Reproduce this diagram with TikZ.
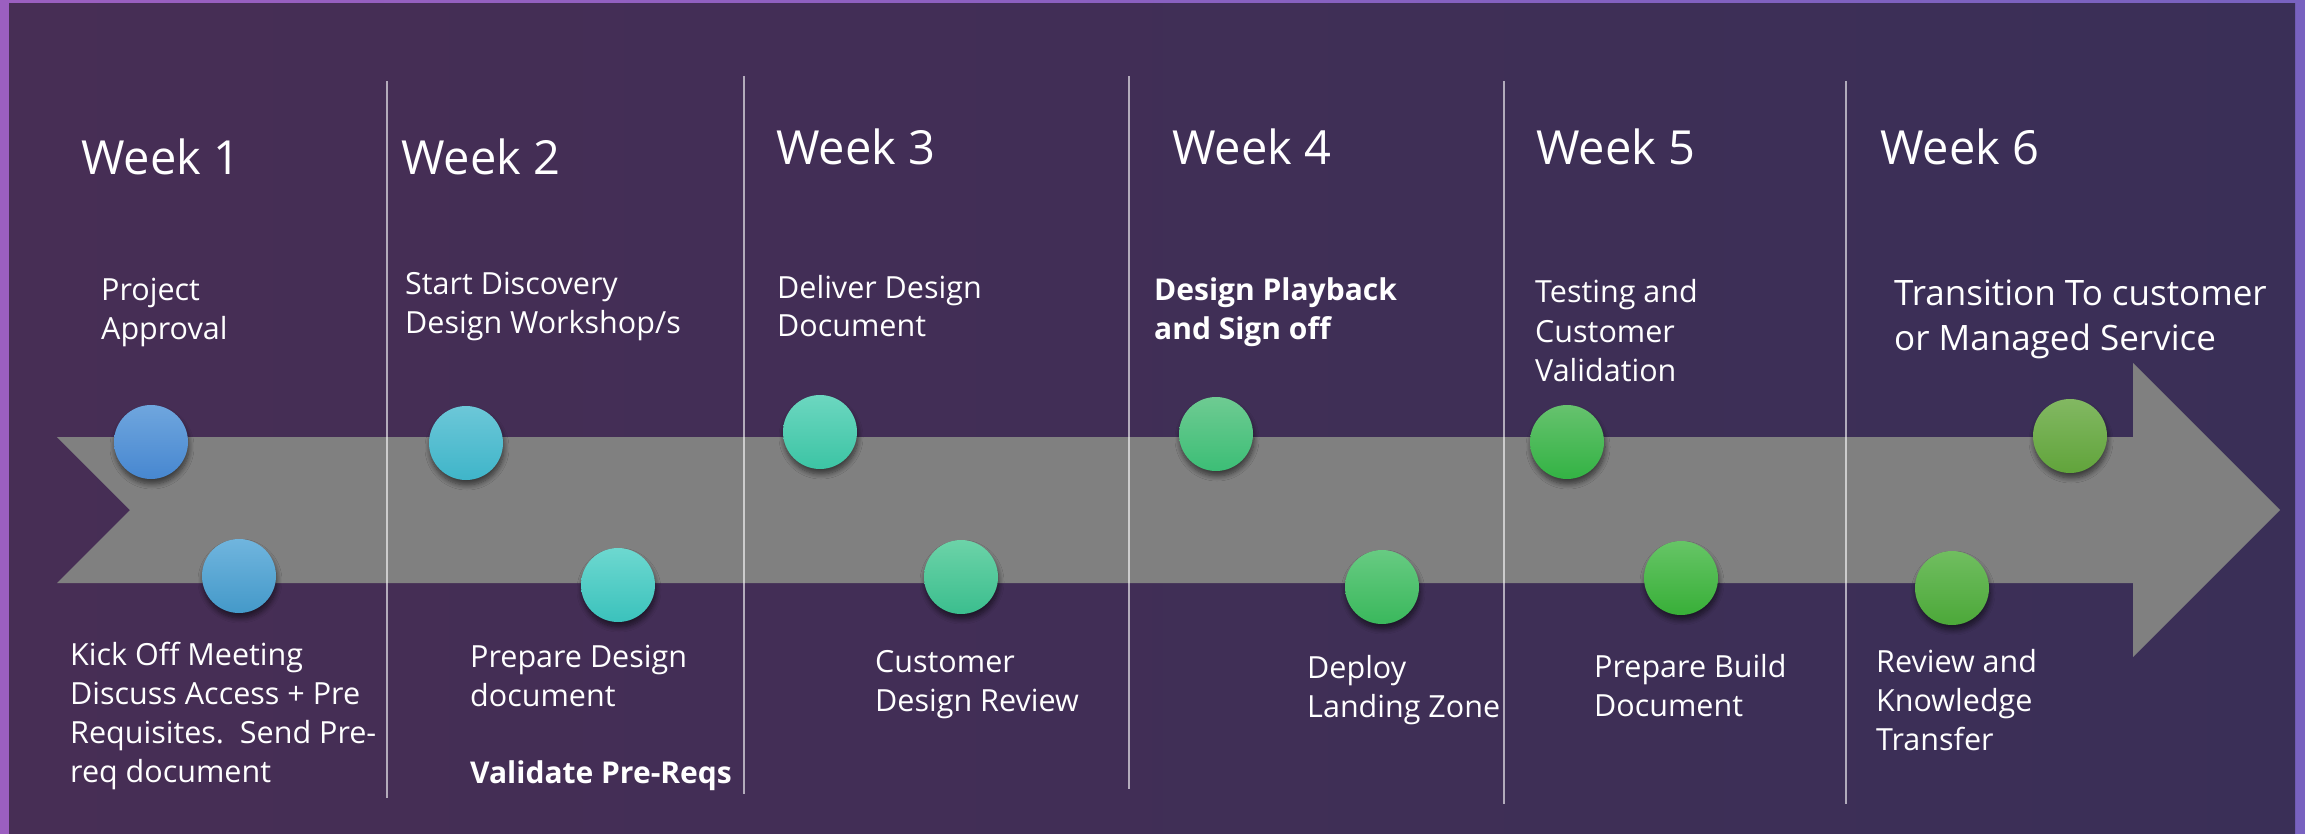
\documentclass[tikz,border=0pt]{standalone}
\usepackage{fontspec}
\setmainfont{Open Sans}
\usetikzlibrary{shadows.blur}

% frame and background
\definecolor{framel}{HTML}{9B5FC0}
\definecolor{framer}{HTML}{7862C0}
\definecolor{bgl}{HTML}{472E55}
\definecolor{bgr}{HTML}{3A2F57}
\definecolor{band}{HTML}{808080}

% milestone dots, blue to green
\definecolor{c1top}{HTML}{6FA6DE}\definecolor{c1bot}{HTML}{4787D0}
\definecolor{c2top}{HTML}{70B5DE}\definecolor{c2bot}{HTML}{4499C9}
\definecolor{c3top}{HTML}{6CC7D8}\definecolor{c3bot}{HTML}{3FB5C9}
\definecolor{c4top}{HTML}{6DD8D0}\definecolor{c4bot}{HTML}{3BC2BC}
\definecolor{c5top}{HTML}{6CD7C0}\definecolor{c5bot}{HTML}{3CC4A4}
\definecolor{c6top}{HTML}{6CD3A8}\definecolor{c6bot}{HTML}{3BBE8E}
\definecolor{c7top}{HTML}{6ECB92}\definecolor{c7bot}{HTML}{3CBE76}
\definecolor{c8top}{HTML}{67CB82}\definecolor{c8bot}{HTML}{3AB85C}
\definecolor{c9top}{HTML}{66C26E}\definecolor{c9bot}{HTML}{33B344}
\definecolor{c10top}{HTML}{66C566}\definecolor{c10bot}{HTML}{38AF38}
\definecolor{c11top}{HTML}{70BE60}\definecolor{c11bot}{HTML}{4CA839}
\definecolor{c12top}{HTML}{82B862}\definecolor{c12bot}{HTML}{61A43B}

\tikzset{
  milestone/.style={circle, minimum size=74pt, inner sep=0pt, draw=none,
    top color=#1top, bottom color=#1bot,
    blur shadow={shadow xshift=1pt, shadow yshift=-5pt,
      shadow blur radius=5pt, shadow blur steps=8, shadow opacity=55}},
  week/.style={anchor=base west, inner sep=0pt, text=white,
    font=\fontsize{47}{56}\selectfont},
  % multi-line text sits on the baseline of its last line
  task/.style={anchor=base west, inner sep=0pt, text=white, align=left,
    font=\fontsize{30.5}{39}\selectfont},
  keytask/.style={task, font=\fontsize{30}{39}\selectfont\bfseries},
  divider/.style={draw=white, draw opacity=0.6, line width=1.5pt},
}

\begin{document}
\begin{tikzpicture}[x=1pt,y=-1pt]
  \useasboundingbox (0,0) rectangle (2305,834);
  \shade[left color=framel, right color=framer] (0,0) rectangle (2305,834);
  \shade[left color=bgl, right color=bgr] (9,4) rectangle (2295,834);

  % timeline band
  \fill[band] (57,437) -- (2133,437) -- (2133,363) -- (2280,510)
    -- (2133,657) -- (2133,583) -- (57,583) -- (130,510) -- cycle;

  % week separators
  \draw[divider] (387,81) -- (387,798);
  \draw[divider] (744,76) -- (744,794);
  \draw[divider] (1129,76) -- (1129,789);
  \draw[divider] (1504,81) -- (1504,804);
  \draw[divider] (1846,81) -- (1846,804);

  % weeks
  \node[week] (w1) at (81,175) {Week 1};
  \node[week] (w2) at (401,175) {Week 2};
  \node[week] (w3) at (776,165) {Week 3};
  \node[week] (w4) at (1172,165) {Week 4};
  \node[week] (w5) at (1536,165) {Week 5};
  \node[week] (w6) at (1880,165) {Week 6};

  % milestones
  \node[milestone=c1] (m1) at (151,442) {};
  \node[milestone=c2] (m2) at (239,576) {};
  \node[milestone=c3] (m3) at (466,443) {};
  \node[milestone=c4] (m4) at (618,585) {};
  \node[milestone=c5] (m5) at (820,432) {};
  \node[milestone=c6] (m6) at (961,577) {};
  \node[milestone=c7] (m7) at (1216,434) {};
  \node[milestone=c8] (m8) at (1382,587) {};
  \node[milestone=c9] (m9) at (1567,442) {};
  \node[milestone=c10] (m10) at (1681,578) {};
  \node[milestone=c11] (m11) at (1952,588) {};
  \node[milestone=c12] (m12) at (2070,436) {};

  % tasks above the band
  \node[task] (t1) at (101,339) {Project\\Approval};
  \node[task] (t3) at (405,334) {Start Discovery\\Design Workshop/s};
  \node[task] (t5) at (777,337) {Deliver Design\\Document};
  \node[keytask] (t7) at (1154,339) {Design Playback\\and Sign off};
  \node[task] (t9) at (1535,381) {Testing and\\Customer\\Validation};
  \node[task, font=\fontsize{35}{45}\selectfont] (t12) at (1894,350)
    {Transition To customer\\or Managed Service};

  % tasks below the band
  \node[task] (t2) at (70,782)
    {Kick Off Meeting\\Discuss Access + Pre\\Requisites.\ \ Send Pre-\\req document};
  \node[task] (t4) at (470,706) {Prepare Design\\document};
  \node[keytask] (t4b) at (470,783) {Validate Pre-Reqs};
  \node[task] (t6) at (875,711) {Customer\\Design Review};
  \node[task] (t8) at (1307,717) {Deploy\\Landing Zone};
  \node[task] (t10) at (1594,716) {Prepare Build\\Document};
  \node[task] (t11) at (1876,750) {Review and\\Knowledge\\Transfer};
\end{tikzpicture}
\end{document}
